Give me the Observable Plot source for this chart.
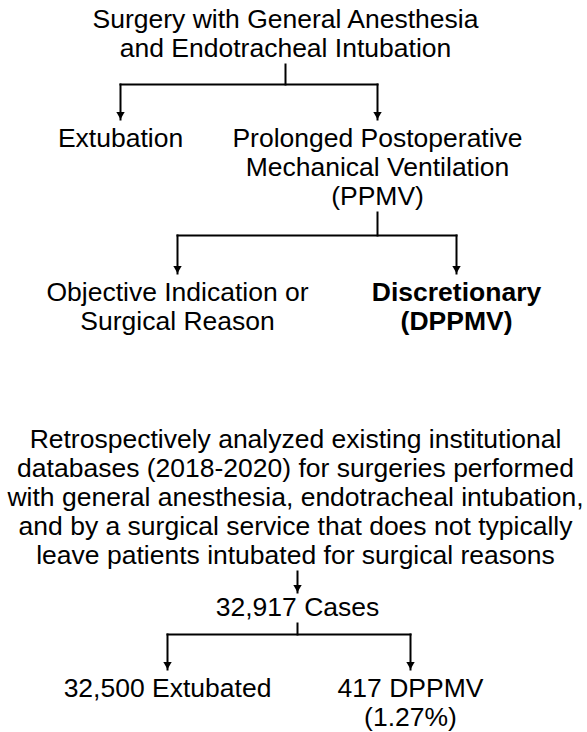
<!DOCTYPE html>
<html><head><meta charset="utf-8">
<script src="https://cdn.jsdelivr.net/npm/d3@7"></script>
<script src="https://cdn.jsdelivr.net/npm/@observablehq/plot@0.6"></script>
<style>html,body{margin:0;padding:0;background:#fff}#chart svg{display:block}</style>
</head><body><div id="chart"></div>
<script>
// ---- values ----
const totalCases = 32917;
const extubatedCases = 32500;
const dppmvCases = 417;
const dppmvPercent = 1.27;
const studyYears = ["2018", "2020"];
const fmt = d3.format(",");

const nodeText = [
  "Surgery with General Anesthesia\nand Endotracheal Intubation",
  "Extubation",
  "Prolonged Postoperative\nMechanical Ventilation\n(PPMV)",
  "Objective Indication or\nSurgical Reason",
  "Discretionary\n(DPPMV)",
  `Retrospectively analyzed existing institutional\ndatabases (${studyYears[0]}-${studyYears[1]}) for surgeries performed\nwith general anesthesia, endotracheal intubation,\nand by a surgical service that does not typically\nleave patients intubated for surgical reasons`,
  `${fmt(totalCases)} Cases`,
  `${fmt(extubatedCases)} Extubated`,
  `${fmt(dppmvCases)} DPPMV\n(${dppmvPercent}%)`
];
const nodeBold = [false, false, false, false, true, false, false, false, false];
// parent -> children
const links = [[0, [1, 2]], [2, [3, 4]], [5, [6]], [6, [7, 8]]];

// ---- layout (pixels) ----
const nodeX = [285, 120, 377, 177, 456, 295, 297, 167, 410];
const nodeBaseline = [27, 146, 146, 300, 300, 447, 615, 696, 696];
const busY = [84, 235, null, 634];
const tipGap = [8, 8, 4, 8];
const lineStep = 29, capH = 19, gapBelow = 8;
const fontSize = 26.5;

// ---- derived marks data ----
const lines = [];
nodeText.forEach((t, i) => {
  t.split("\n").forEach((s, j) => lines.push({
    text: s, x: nodeX[i], y: nodeBaseline[i] + j * lineStep, bold: nodeBold[i]
  }));
});
const nLines = i => nodeText[i].split("\n").length;
const bottomOf = i => nodeBaseline[i] + (nLines(i) - 1) * lineStep + gapBelow;
const tipOf = (i, g) => nodeBaseline[i] - capH - tipGap[g];

const segs = [], heads = [];
links.forEach(([p, cs], g) => {
  if (cs.length === 1) {
    const c = cs[0];
    segs.push({x1: nodeX[c], y1: bottomOf(p), x2: nodeX[c], y2: tipOf(c, g)});
    heads.push({x: nodeX[c], y: tipOf(c, g)});
  } else {
    const b = busY[g];
    segs.push({x1: nodeX[p], y1: bottomOf(p), x2: nodeX[p], y2: b});
    const xs = cs.map(c => nodeX[c]);
    segs.push({x1: d3.min(xs), y1: b, x2: d3.max(xs), y2: b});
    cs.forEach(c => {
      segs.push({x1: nodeX[c], y1: b, x2: nodeX[c], y2: tipOf(c, g)});
      heads.push({x: nodeX[c], y: tipOf(c, g)});
    });
  }
});

const chart = Plot.plot({
  width: 587,
  height: 732,
  margin: 0,
  x: {domain: [0, 587], range: [0, 587], axis: null},
  y: {domain: [0, 732], range: [0, 732], axis: null},
  style: {fontFamily: "'Liberation Sans', Arial, Helvetica, sans-serif", background: "#fff"},
  marks: [
    Plot.link(segs, {x1: "x1", y1: "y1", x2: "x2", y2: "y2", stroke: "#000", strokeWidth: 2, strokeLinecap: "square"}),
    Plot.dot(heads, {x: "x", y: "y", symbol: "triangle", rotate: 180, r: 3.1, dy: -5, fill: "#000", stroke: "none"}),
    Plot.text(lines.filter(d => !d.bold), {x: "x", y: "y", text: "text", lineAnchor: "bottom", fontSize, fill: "#000"}),
    Plot.text(lines.filter(d => d.bold), {x: "x", y: "y", text: "text", lineAnchor: "bottom", fontSize, fontWeight: "bold", fill: "#000"})
  ]
});
document.getElementById("chart").appendChild(chart);
</script>
</body></html>
